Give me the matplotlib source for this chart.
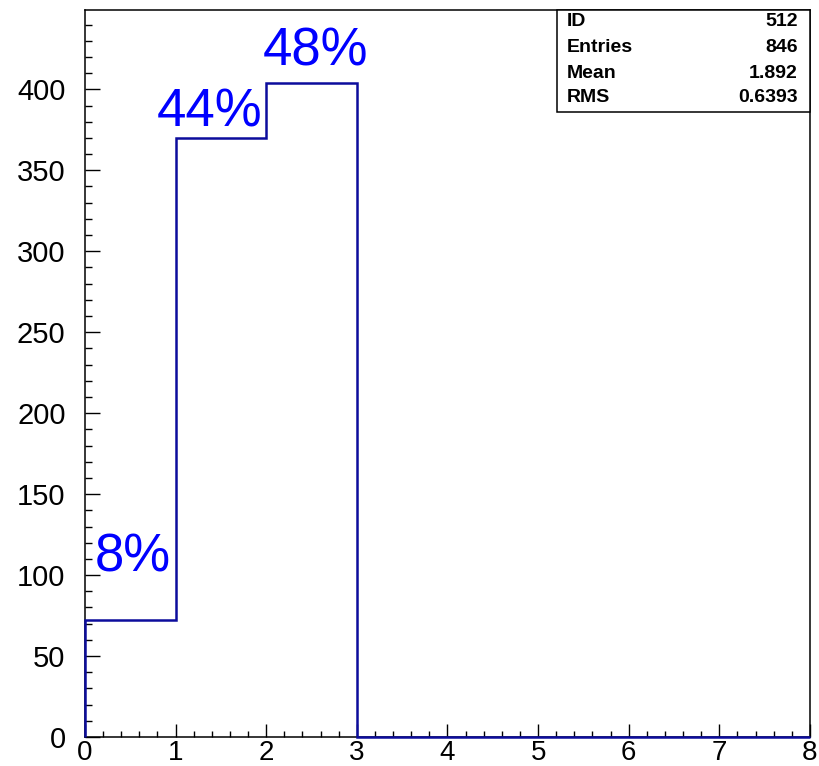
import matplotlib
matplotlib.use("Agg")
import matplotlib.pyplot as plt
from matplotlib.ticker import MultipleLocator
import numpy as np

# Histogram contents: 8 unit-wide bins from 0 to 8
bin_edges = [0, 1, 2, 3, 4, 5, 6, 7, 8]
counts = [72, 370, 404, 0, 0, 0, 0, 0]

# Percentage annotations for the filled bins
pct_labels = ["8%", "44%", "48%"]
pct_anchor_x = [0.11, 0.795, 1.965]
pct_anchor_y = [102, 377, 415]

# Statistics box entries
stat_names = ["ID", "Entries", "Mean", "RMS"]
stat_values = ["512", "846", "1.892", "0.6393"]

plt.rcParams["font.family"] = ["Liberation Sans", "DejaVu Sans"]

fig = plt.figure(figsize=(8.2, 7.66), dpi=100)
ax = fig.add_axes([85 / 820, 1 - 737 / 766, 725 / 820, 727 / 766])

ax.stairs(counts, bin_edges, color="#0c0c9c", linewidth=1.8, baseline=0,
          clip_on=False, zorder=3)

ax.set_xlim(0, 8)
ax.set_ylim(0, 449)

ax.xaxis.set_major_locator(MultipleLocator(1))
ax.xaxis.set_minor_locator(MultipleLocator(0.2))
ax.yaxis.set_major_locator(MultipleLocator(50))
ax.yaxis.set_minor_locator(MultipleLocator(10))

ax.tick_params(axis="both", which="both", direction="in", top=False, right=False,
               colors="black", width=1.0)
ax.tick_params(axis="y", which="major", length=11, pad=14, labelsize=21)
ax.tick_params(axis="y", which="minor", length=5)
ax.tick_params(axis="x", which="major", length=9.5, pad=2, labelsize=20)
ax.tick_params(axis="x", which="minor", length=4.5)

for sp in ax.spines.values():
    sp.set_linewidth(1.1)
    sp.set_color("black")

for lbl, x, y in zip(pct_labels, pct_anchor_x, pct_anchor_y):
    ax.text(x, y, lbl, color="#0000ff", fontsize=38, ha="left", va="baseline",
            zorder=4)

# Statistics box in the upper right corner
box_left, box_right = 557 / 820, 810 / 820
box_top, box_bottom = 1 - 10 / 766, 1 - 112 / 766
fig.add_artist(plt.Rectangle((box_left, box_bottom), box_right - box_left,
                             box_top - box_bottom, transform=fig.transFigure,
                             facecolor="white", edgecolor="black", linewidth=1.1,
                             zorder=5))
row_y = [22, 47, 73, 98]
for name, val, yy in zip(stat_names, stat_values, row_y):
    fig.text(567 / 820, 1 - yy / 766, name, fontsize=14, fontweight="bold",
             ha="left", va="center", zorder=6)
    fig.text(798 / 820, 1 - yy / 766, val, fontsize=14, fontweight="bold",
             ha="right", va="center", zorder=6)

fig.savefig("out.png", dpi=100, facecolor="white")
